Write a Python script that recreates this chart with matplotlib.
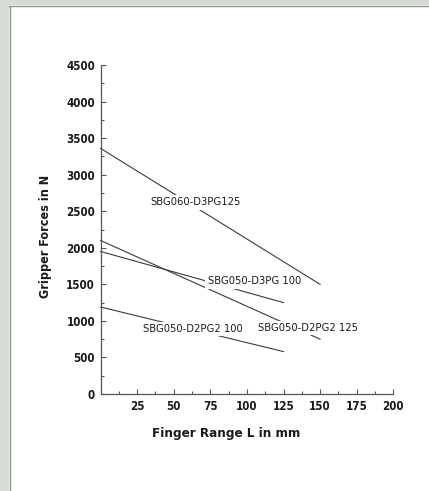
import matplotlib
matplotlib.use("Agg")
import matplotlib.pyplot as plt
from matplotlib.ticker import MultipleLocator, FixedLocator
from matplotlib.patches import Rectangle
from matplotlib.lines import Line2D
from matplotlib import font_manager as fm

# Data
series_names = ["SBG060-D3PG125", "SBG050-D3PG 100", "SBG050-D2PG2 125", "SBG050-D2PG2 100"]
x_start = [0, 0, 0, 0]
x_end = [150, 125, 150, 125]
force_start = [3360, 1950, 2100, 1190]
force_end = [1500, 1250, 750, 580]
label_x = [65, 105, 142, 63]
label_y = [2620, 1540, 905, 890]
x_ticks = [25, 50, 75, 100, 125, 150, 175, 200]
y_ticks = [0, 500, 1000, 1500, 2000, 2500, 3000, 3500, 4000, 4500]

bold_fp = dict(family="DejaVu Sans", stretch="condensed", weight="bold")
label_fp = dict(family="DejaVu Sans", stretch="condensed", weight="normal")

fig = plt.figure(figsize=(4.29, 4.91), dpi=100)
fig.patch.set_facecolor("white")

# grey frame at top and left
fig.patches.append(Rectangle((0, 1 - 5 / 491), 1, 5 / 491, transform=fig.transFigure,
                             facecolor="#d6dcd4", edgecolor="none", zorder=0))
fig.patches.append(Rectangle((0, 0), 9 / 429, 1, transform=fig.transFigure,
                             facecolor="#d6dcd4", edgecolor="none", zorder=0))
fig.lines.append(Line2D([9 / 429, 1], [1 - 5.5 / 491, 1 - 5.5 / 491], transform=fig.transFigure,
                        color="#8f948d", lw=1.0))
fig.lines.append(Line2D([9.5 / 429, 9.5 / 429], [0, 1 - 5.5 / 491], transform=fig.transFigure,
                        color="#8f948d", lw=1.0))

ax = fig.add_axes([100.5 / 429, 1 - 394 / 491, (393.3 - 100.5) / 429, (394 - 65) / 491])
ax.set_facecolor("none")
ax.set_xlim(0, 200)
ax.set_ylim(0, 4500)

for name, xs, xe, ys, ye, lx, ly in zip(series_names, x_start, x_end, force_start, force_end, label_x, label_y):
    ax.plot([xs, xe], [ys, ye], color="#3a3a3a", lw=0.8, clip_on=False, zorder=2)
    ax.text(lx, ly, name, ha="center", va="center", fontsize=8.0, color="#1a1a1a", zorder=3,
            bbox=dict(facecolor="white", edgecolor="none", pad=1.5), **label_fp)

for s in ["top", "right"]:
    ax.spines[s].set_visible(False)
for s in ["left", "bottom"]:
    ax.spines[s].set_color("#555555")
    ax.spines[s].set_linewidth(0.9)

ax.xaxis.set_major_locator(FixedLocator(x_ticks))
ax.yaxis.set_major_locator(FixedLocator(y_ticks))
ax.xaxis.set_minor_locator(MultipleLocator(12.5))
ax.yaxis.set_minor_locator(MultipleLocator(250))
ax.tick_params(which="major", direction="in", length=3.5, width=0.8, color="#555555", pad=4)
ax.tick_params(which="minor", direction="in", length=2, width=0.8, color="#555555")

for lab in ax.get_xticklabels() + ax.get_yticklabels():
    lab.set_fontproperties(fm.FontProperties(size=8.3, **bold_fp))
    lab.set_color("#1a1a1a")

ax.set_xlabel("Finger Range L in mm", fontsize=9.6, color="#1a1a1a", **bold_fp)
ax.set_ylabel("Gripper Forces in N", fontsize=9.0, color="#1a1a1a", **bold_fp)
ax.yaxis.set_label_coords(-0.166, 0.48)
ax.xaxis.set_label_coords(0.43, -0.10)

fig.savefig("out.png", dpi=100)
